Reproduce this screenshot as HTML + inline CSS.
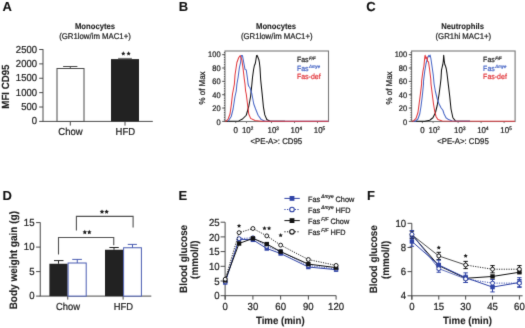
<!DOCTYPE html>
<html><head><meta charset="utf-8"><style>
html,body{margin:0;padding:0;background:#fff;}
svg{display:block;font-family:"Liberation Sans", sans-serif;text-rendering:geometricPrecision;}
</style></head><body>
<svg width="525" height="328" viewBox="0 0 525 328">
<defs><filter id="soft" x="0" y="0" width="525" height="328" filterUnits="userSpaceOnUse" color-interpolation-filters="sRGB"><feConvolveMatrix order="3" kernelMatrix="1 8 1 8 64 8 1 8 1" divisor="100" edgeMode="duplicate"/></filter></defs>
<g filter="url(#soft)">
<rect width="525" height="328" fill="#fff"/>
<text x="2.6" y="10.8" font-size="13" text-anchor="start" font-weight="bold" fill="#111" stroke="#111" stroke-width="0.1" >A</text>
<text x="178.7" y="10.8" font-size="13" text-anchor="start" font-weight="bold" fill="#111" stroke="#111" stroke-width="0.1" >B</text>
<text x="366.3" y="11.0" font-size="13" text-anchor="start" font-weight="bold" fill="#111" stroke="#111" stroke-width="0.1" >C</text>
<text x="2.4" y="199.6" font-size="13" text-anchor="start" font-weight="bold" fill="#111" stroke="#111" stroke-width="0.1" >D</text>
<text x="178.6" y="199.7" font-size="13" text-anchor="start" font-weight="bold" fill="#111" stroke="#111" stroke-width="0.1" >E</text>
<text x="367.0" y="199.8" font-size="13" text-anchor="start" font-weight="bold" fill="#111" stroke="#111" stroke-width="0.1" >F</text>
<text transform="translate(95,29.4) scale(1,1.07)" x="0" y="0" font-size="7.7" text-anchor="middle" font-weight="bold" fill="#1e1e1e" stroke="#1e1e1e" stroke-width="0.1" >Monocytes</text>
<text transform="translate(95.0,38.8) scale(1,1.07)" x="0" y="0" font-size="7.8" text-anchor="middle" font-weight="normal" fill="#1e1e1e" stroke="#1e1e1e" stroke-width="0.22" >(GR1low/im MAC1+)</text>
<line x1="43" y1="49.1" x2="43" y2="121.4" stroke="#4a4a4a" stroke-width="1" />
<line x1="39.2" y1="121.4" x2="43" y2="121.4" stroke="#4a4a4a" stroke-width="1" />
<text transform="translate(37.0,124.4) scale(1,1.07)" x="0" y="0" font-size="9.5" text-anchor="end" font-weight="normal" fill="#1e1e1e" stroke="#1e1e1e" stroke-width="0.22" >0</text>
<line x1="39.2" y1="107.02000000000001" x2="43" y2="107.02000000000001" stroke="#4a4a4a" stroke-width="1" />
<text transform="translate(37.0,110.02000000000001) scale(1,1.07)" x="0" y="0" font-size="9.5" text-anchor="end" font-weight="normal" fill="#1e1e1e" stroke="#1e1e1e" stroke-width="0.22" >500</text>
<line x1="39.2" y1="92.64" x2="43" y2="92.64" stroke="#4a4a4a" stroke-width="1" />
<text transform="translate(37.0,95.64) scale(1,1.07)" x="0" y="0" font-size="9.5" text-anchor="end" font-weight="normal" fill="#1e1e1e" stroke="#1e1e1e" stroke-width="0.22" >1000</text>
<line x1="39.2" y1="78.26" x2="43" y2="78.26" stroke="#4a4a4a" stroke-width="1" />
<text transform="translate(37.0,81.26) scale(1,1.07)" x="0" y="0" font-size="9.5" text-anchor="end" font-weight="normal" fill="#1e1e1e" stroke="#1e1e1e" stroke-width="0.22" >1500</text>
<line x1="39.2" y1="63.88" x2="43" y2="63.88" stroke="#4a4a4a" stroke-width="1" />
<text transform="translate(37.0,66.88) scale(1,1.07)" x="0" y="0" font-size="9.5" text-anchor="end" font-weight="normal" fill="#1e1e1e" stroke="#1e1e1e" stroke-width="0.22" >2000</text>
<line x1="39.2" y1="49.5" x2="43" y2="49.5" stroke="#4a4a4a" stroke-width="1" />
<text transform="translate(37.0,52.5) scale(1,1.07)" x="0" y="0" font-size="9.5" text-anchor="end" font-weight="normal" fill="#1e1e1e" stroke="#1e1e1e" stroke-width="0.22" >2500</text>
<line x1="42.5" y1="121.4" x2="152.8" y2="121.4" stroke="#4a4a4a" stroke-width="1" />
<line x1="70.3" y1="121.4" x2="70.3" y2="125.6" stroke="#4a4a4a" stroke-width="1" />
<line x1="125" y1="121.4" x2="125" y2="125.6" stroke="#4a4a4a" stroke-width="1" />
<rect x="57" y="68.5" width="27" height="52.900000000000006" fill="#fff" stroke="#4a4a4a" stroke-width="1"/>
<line x1="70.3" y1="68.5" x2="70.3" y2="66.5" stroke="#4a4a4a" stroke-width="1" />
<line x1="63.1" y1="66.5" x2="77.4" y2="66.5" stroke="#4a4a4a" stroke-width="1" />
<rect x="111" y="59.1" width="28" height="62.300000000000004" fill="#222"/>
<line x1="118.1" y1="58.4" x2="131.9" y2="58.4" stroke="#666" stroke-width="1" />
<polygon points="123.30,51.35 123.96,52.69 125.44,52.90 124.37,53.95 124.62,55.42 123.30,54.73 121.98,55.42 122.23,53.95 121.16,52.90 122.64,52.69" fill="#1e1e1e"/>
<polygon points="128.60,51.35 129.26,52.69 130.74,52.90 129.67,53.95 129.92,55.42 128.60,54.73 127.28,55.42 127.53,53.95 126.46,52.90 127.94,52.69" fill="#1e1e1e"/>
<text transform="translate(70.5,135.3) scale(1,1.07)" x="0" y="0" font-size="9.5" text-anchor="middle" font-weight="normal" fill="#1e1e1e" stroke="#1e1e1e" stroke-width="0.22" >Chow</text>
<text transform="translate(125.3,135.3) scale(1,1.07)" x="0" y="0" font-size="9.5" text-anchor="middle" font-weight="normal" fill="#1e1e1e" stroke="#1e1e1e" stroke-width="0.22" >HFD</text>
<text transform="translate(8.5,86.6) rotate(-90) scale(1,1.07)" x="0" y="0" font-size="9.7" text-anchor="middle" font-weight="bold" fill="#1e1e1e" stroke="#1e1e1e" stroke-width="0.1">MFI CD95</text>
<text transform="translate(276.05,29.4) scale(1,1.07)" x="0" y="0" font-size="7.7" text-anchor="middle" font-weight="bold" fill="#1e1e1e" stroke="#1e1e1e" stroke-width="0.1" >Monocytes</text>
<text transform="translate(276.75,39.2) scale(1,1.07)" x="0" y="0" font-size="7.8" text-anchor="middle" font-weight="normal" fill="#1e1e1e" stroke="#1e1e1e" stroke-width="0.22" >(GR1low/im MAC1+)</text>
<rect x="225" y="51" width="103.5" height="70.5" fill="none" stroke="#777" stroke-width="1.1"/>
<line x1="222.2" y1="121.4" x2="225" y2="121.4" stroke="#555" stroke-width="1" />
<text transform="translate(220.6,125.05) scale(1,1.07)" x="0" y="0" font-size="7.5" text-anchor="end" font-weight="normal" fill="#1e1e1e" stroke="#1e1e1e" stroke-width="0.22" >0</text>
<line x1="222.2" y1="108.05000000000001" x2="225" y2="108.05000000000001" stroke="#555" stroke-width="1" />
<text transform="translate(220.6,111.48) scale(1,1.07)" x="0" y="0" font-size="7.5" text-anchor="end" font-weight="normal" fill="#1e1e1e" stroke="#1e1e1e" stroke-width="0.22" >20</text>
<line x1="222.2" y1="94.7" x2="225" y2="94.7" stroke="#555" stroke-width="1" />
<text transform="translate(220.6,97.91) scale(1,1.07)" x="0" y="0" font-size="7.5" text-anchor="end" font-weight="normal" fill="#1e1e1e" stroke="#1e1e1e" stroke-width="0.22" >40</text>
<line x1="222.2" y1="81.35000000000001" x2="225" y2="81.35000000000001" stroke="#555" stroke-width="1" />
<text transform="translate(220.6,84.33999999999999) scale(1,1.07)" x="0" y="0" font-size="7.5" text-anchor="end" font-weight="normal" fill="#1e1e1e" stroke="#1e1e1e" stroke-width="0.22" >60</text>
<line x1="222.2" y1="68.0" x2="225" y2="68.0" stroke="#555" stroke-width="1" />
<text transform="translate(220.6,70.77) scale(1,1.07)" x="0" y="0" font-size="7.5" text-anchor="end" font-weight="normal" fill="#1e1e1e" stroke="#1e1e1e" stroke-width="0.22" >80</text>
<line x1="222.2" y1="54.650000000000006" x2="225" y2="54.650000000000006" stroke="#555" stroke-width="1" />
<text transform="translate(220.6,57.2) scale(1,1.07)" x="0" y="0" font-size="7.5" text-anchor="end" font-weight="normal" fill="#1e1e1e" stroke="#1e1e1e" stroke-width="0.22" >100</text>
<line x1="224.4" y1="52" x2="224.4" y2="121.5" stroke="#555" stroke-width="1" stroke-dasharray="1.2,1.2"/>
<text transform="translate(235.75,132.6) scale(1,1.07)" x="0" y="0" font-size="7.9" text-anchor="middle" font-weight="normal" fill="#1e1e1e" stroke="#1e1e1e" stroke-width="0.22" >0</text>
<text transform="translate(241.9,132.6) scale(1,1.07)" x="0" y="0" font-size="7.9" fill="#1e1e1e" stroke="#1e1e1e" stroke-width="0.22">10<tspan font-size="4.6" dy="-2.3">2</tspan></text>
<text transform="translate(267.5,132.6) scale(1,1.07)" x="0" y="0" font-size="7.9" fill="#1e1e1e" stroke="#1e1e1e" stroke-width="0.22">10<tspan font-size="4.6" dy="-2.3">3</tspan></text>
<text transform="translate(290.6,132.6) scale(1,1.07)" x="0" y="0" font-size="7.9" fill="#1e1e1e" stroke="#1e1e1e" stroke-width="0.22">10<tspan font-size="4.6" dy="-2.3">4</tspan></text>
<text transform="translate(313.75,132.6) scale(1,1.07)" x="0" y="0" font-size="7.9" fill="#1e1e1e" stroke="#1e1e1e" stroke-width="0.22">10<tspan font-size="4.6" dy="-2.3">5</tspan></text>
<line x1="235.75" y1="121.5" x2="235.75" y2="123.1" stroke="#777" stroke-width="1" />
<line x1="246.5" y1="121.5" x2="246.5" y2="123.1" stroke="#777" stroke-width="1" />
<line x1="271.5" y1="121.5" x2="271.5" y2="123.1" stroke="#777" stroke-width="1" />
<line x1="294.5" y1="121.5" x2="294.5" y2="123.1" stroke="#777" stroke-width="1" />
<line x1="317.5" y1="121.5" x2="317.5" y2="123.1" stroke="#777" stroke-width="1" />
<text transform="translate(276.35,143.7) scale(1,1.07)" x="0" y="0" font-size="7.8" text-anchor="middle" font-weight="normal" fill="#1e1e1e" stroke="#1e1e1e" stroke-width="0.22" >&lt;PE-A&gt;: CD95</text>
<text transform="translate(205.3,88.0) rotate(-90) scale(1,1.07)" x="0" y="0" font-size="7.95" text-anchor="middle" font-weight="normal" fill="#1e1e1e" stroke="#1e1e1e" stroke-width="0.22">% of Max</text>
<path d="M225.00,121.30 L238.75,120.90 L242.50,119.00 L246.25,115.25 L248.75,106.50 L250.60,96.50 L251.90,84.00 L252.50,77.50 L253.60,69.50 L254.40,65.50 L254.90,64.60 L255.50,62.50 L256.10,58.50 L256.60,55.60 L257.10,55.40 L257.70,56.80 L258.30,58.20 L258.90,59.80 L259.40,62.50 L260.00,68.00 L260.70,80.00 L262.10,93.40 L263.40,106.80 L264.80,114.90 L266.80,119.50 L270.10,121.30 L285.00,121.30" stroke="#111" stroke-width="1.05" fill="none"  stroke-linejoin="round"/>
<path d="M228.10,121.25 L231.25,116.50 L233.10,109.00 L235.00,96.50 L236.25,91.00 L236.90,84.00 L238.10,77.50 L239.40,67.50 L240.60,62.50 L241.25,55.60 L242.50,55.60 L243.75,62.50 L245.00,69.40 L246.25,70.00 L247.50,78.75 L248.10,84.00 L248.75,86.25 L250.00,87.75 L251.90,94.00 L253.75,104.00 L255.60,109.00 L258.10,115.25 L261.25,119.60 L265.00,121.25 L328.50,121.30" stroke="#4a68c6" stroke-width="1.05" fill="none"  stroke-linejoin="round"/>
<path d="M225.00,121.30 L226.20,121.10 L228.10,119.00 L230.00,114.00 L231.25,105.25 L232.50,94.00 L233.10,91.00 L234.40,84.00 L235.00,75.00 L236.90,62.50 L238.75,57.50 L240.25,55.60 L241.90,60.00 L243.10,68.75 L244.40,80.00 L245.00,84.00 L245.60,91.00 L246.25,94.00 L247.50,104.00 L248.75,114.00 L250.60,118.40 L255.00,120.50 L261.25,121.25 L328.50,121.25" stroke="#e23a3f" stroke-width="1.05" fill="none"  stroke-linejoin="round"/>
<text transform="translate(296.9,62.4) scale(1,1.07)" x="0" y="0" font-size="7.0" fill="#2a2a2a" stroke="#2a2a2a" stroke-width="0.22">Fas<tspan font-size="4.3" dx="0.5" dy="-2.2" font-style="italic">F/F</tspan></text>
<text transform="translate(296.9,70.8) scale(1,1.07)" x="0" y="0" font-size="7.0" fill="#4a68c6" stroke="#4a68c6" stroke-width="0.22">Fas<tspan font-size="4.3" dx="0.5" dy="-2.2" font-style="italic">Δmye</tspan></text>
<text transform="translate(296.9,79.2) scale(1,1.07)" x="0" y="0" font-size="7.0" fill="#e23a3f" stroke="#e23a3f" stroke-width="0.22">Fas-def</text>
<text transform="translate(462.65000000000003,29.4) scale(1,1.07)" x="0" y="0" font-size="7.7" text-anchor="middle" font-weight="bold" fill="#1e1e1e" stroke="#1e1e1e" stroke-width="0.1" >Neutrophils</text>
<text transform="translate(463.35,39.2) scale(1,1.07)" x="0" y="0" font-size="7.8" text-anchor="middle" font-weight="normal" fill="#1e1e1e" stroke="#1e1e1e" stroke-width="0.22" >(GR1hi MAC1+)</text>
<rect x="411.6" y="51" width="103.5" height="70.5" fill="none" stroke="#777" stroke-width="1.1"/>
<line x1="408.8" y1="121.4" x2="411.6" y2="121.4" stroke="#555" stroke-width="1" />
<text transform="translate(407.20000000000005,125.05) scale(1,1.07)" x="0" y="0" font-size="7.5" text-anchor="end" font-weight="normal" fill="#1e1e1e" stroke="#1e1e1e" stroke-width="0.22" >0</text>
<line x1="408.8" y1="108.05000000000001" x2="411.6" y2="108.05000000000001" stroke="#555" stroke-width="1" />
<text transform="translate(407.20000000000005,111.48) scale(1,1.07)" x="0" y="0" font-size="7.5" text-anchor="end" font-weight="normal" fill="#1e1e1e" stroke="#1e1e1e" stroke-width="0.22" >20</text>
<line x1="408.8" y1="94.7" x2="411.6" y2="94.7" stroke="#555" stroke-width="1" />
<text transform="translate(407.20000000000005,97.91) scale(1,1.07)" x="0" y="0" font-size="7.5" text-anchor="end" font-weight="normal" fill="#1e1e1e" stroke="#1e1e1e" stroke-width="0.22" >40</text>
<line x1="408.8" y1="81.35000000000001" x2="411.6" y2="81.35000000000001" stroke="#555" stroke-width="1" />
<text transform="translate(407.20000000000005,84.33999999999999) scale(1,1.07)" x="0" y="0" font-size="7.5" text-anchor="end" font-weight="normal" fill="#1e1e1e" stroke="#1e1e1e" stroke-width="0.22" >60</text>
<line x1="408.8" y1="68.0" x2="411.6" y2="68.0" stroke="#555" stroke-width="1" />
<text transform="translate(407.20000000000005,70.77) scale(1,1.07)" x="0" y="0" font-size="7.5" text-anchor="end" font-weight="normal" fill="#1e1e1e" stroke="#1e1e1e" stroke-width="0.22" >80</text>
<line x1="408.8" y1="54.650000000000006" x2="411.6" y2="54.650000000000006" stroke="#555" stroke-width="1" />
<text transform="translate(407.20000000000005,57.2) scale(1,1.07)" x="0" y="0" font-size="7.5" text-anchor="end" font-weight="normal" fill="#1e1e1e" stroke="#1e1e1e" stroke-width="0.22" >100</text>
<line x1="411.0" y1="52" x2="411.0" y2="121.5" stroke="#555" stroke-width="1" stroke-dasharray="1.2,1.2"/>
<text transform="translate(422.35,132.6) scale(1,1.07)" x="0" y="0" font-size="7.9" text-anchor="middle" font-weight="normal" fill="#1e1e1e" stroke="#1e1e1e" stroke-width="0.22" >0</text>
<text transform="translate(428.5,132.6) scale(1,1.07)" x="0" y="0" font-size="7.9" fill="#1e1e1e" stroke="#1e1e1e" stroke-width="0.22">10<tspan font-size="4.6" dy="-2.3">2</tspan></text>
<text transform="translate(454.1,132.6) scale(1,1.07)" x="0" y="0" font-size="7.9" fill="#1e1e1e" stroke="#1e1e1e" stroke-width="0.22">10<tspan font-size="4.6" dy="-2.3">3</tspan></text>
<text transform="translate(477.20000000000005,132.6) scale(1,1.07)" x="0" y="0" font-size="7.9" fill="#1e1e1e" stroke="#1e1e1e" stroke-width="0.22">10<tspan font-size="4.6" dy="-2.3">4</tspan></text>
<text transform="translate(500.35,132.6) scale(1,1.07)" x="0" y="0" font-size="7.9" fill="#1e1e1e" stroke="#1e1e1e" stroke-width="0.22">10<tspan font-size="4.6" dy="-2.3">5</tspan></text>
<line x1="422.35" y1="121.5" x2="422.35" y2="123.1" stroke="#777" stroke-width="1" />
<line x1="433.1" y1="121.5" x2="433.1" y2="123.1" stroke="#777" stroke-width="1" />
<line x1="458.1" y1="121.5" x2="458.1" y2="123.1" stroke="#777" stroke-width="1" />
<line x1="481.1" y1="121.5" x2="481.1" y2="123.1" stroke="#777" stroke-width="1" />
<line x1="504.1" y1="121.5" x2="504.1" y2="123.1" stroke="#777" stroke-width="1" />
<text transform="translate(462.95000000000005,143.7) scale(1,1.07)" x="0" y="0" font-size="7.8" text-anchor="middle" font-weight="normal" fill="#1e1e1e" stroke="#1e1e1e" stroke-width="0.22" >&lt;PE-A&gt;: CD95</text>
<text transform="translate(391.90000000000003,88.0) rotate(-90) scale(1,1.07)" x="0" y="0" font-size="7.95" text-anchor="middle" font-weight="normal" fill="#1e1e1e" stroke="#1e1e1e" stroke-width="0.22">% of Max</text>
<path d="M412.00,121.30 L424.75,121.25 L429.75,120.25 L432.90,117.75 L435.40,112.75 L437.25,105.25 L439.10,94.00 L440.40,84.00 L441.00,78.75 L441.50,70.10 L442.30,66.50 L442.80,64.50 L443.30,61.00 L443.70,55.30 L444.20,60.50 L444.80,64.50 L445.60,66.30 L446.20,68.50 L446.90,72.80 L448.20,83.60 L449.75,96.50 L451.00,109.00 L452.90,117.75 L455.40,120.90 L470.00,121.30" stroke="#111" stroke-width="1.05" fill="none"  stroke-linejoin="round"/>
<path d="M413.00,121.30 L415.40,121.25 L417.90,119.00 L419.75,114.00 L421.00,106.50 L422.25,96.50 L423.50,84.00 L423.50,81.25 L424.75,71.25 L426.00,63.75 L427.25,58.90 L428.10,56.70 L428.80,55.40 L429.40,56.70 L430.10,55.10 L430.80,58.00 L432.00,66.25 L433.25,75.00 L434.10,84.00 L435.40,91.50 L437.25,99.00 L439.10,104.00 L441.00,107.75 L442.90,110.25 L444.10,114.00 L446.00,117.75 L448.50,119.60 L452.25,120.90 L470.00,121.30" stroke="#4a68c6" stroke-width="1.05" fill="none"  stroke-linejoin="round"/>
<path d="M411.60,121.30 L413.50,120.90 L416.00,118.40 L417.90,112.75 L419.10,104.00 L420.40,94.00 L421.60,84.00 L421.60,81.25 L422.90,71.25 L423.90,66.25 L424.75,57.50 L425.10,55.25 L426.00,58.75 L427.00,56.90 L427.60,61.25 L428.50,61.90 L429.50,68.75 L430.75,78.75 L431.00,84.00 L432.25,94.00 L433.50,104.00 L434.75,111.50 L436.00,116.50 L437.90,119.60 L442.25,120.90 L515.00,121.30" stroke="#e23a3f" stroke-width="1.05" fill="none"  stroke-linejoin="round"/>
<text transform="translate(483.1,62.4) scale(1,1.07)" x="0" y="0" font-size="7.0" fill="#2a2a2a" stroke="#2a2a2a" stroke-width="0.22">Fas<tspan font-size="4.3" dx="0.5" dy="-2.2" font-style="italic">F/F</tspan></text>
<text transform="translate(483.1,70.8) scale(1,1.07)" x="0" y="0" font-size="7.0" fill="#4a68c6" stroke="#4a68c6" stroke-width="0.22">Fas<tspan font-size="4.3" dx="0.5" dy="-2.2" font-style="italic">Δmye</tspan></text>
<text transform="translate(483.1,79.2) scale(1,1.07)" x="0" y="0" font-size="7.0" fill="#e23a3f" stroke="#e23a3f" stroke-width="0.22">Fas-def</text>
<line x1="40.25" y1="222.4" x2="40.25" y2="296.1" stroke="#4a4a4a" stroke-width="1" />
<line x1="36.1" y1="296.1" x2="40.25" y2="296.1" stroke="#4a4a4a" stroke-width="1" />
<text transform="translate(34.5,299.40000000000003) scale(1,1.07)" x="0" y="0" font-size="9.6" text-anchor="end" font-weight="normal" fill="#1e1e1e" stroke="#1e1e1e" stroke-width="0.22" >0</text>
<line x1="36.1" y1="271.6" x2="40.25" y2="271.6" stroke="#4a4a4a" stroke-width="1" />
<text transform="translate(34.5,274.90000000000003) scale(1,1.07)" x="0" y="0" font-size="9.6" text-anchor="end" font-weight="normal" fill="#1e1e1e" stroke="#1e1e1e" stroke-width="0.22" >5</text>
<line x1="36.1" y1="247.10000000000002" x2="40.25" y2="247.10000000000002" stroke="#4a4a4a" stroke-width="1" />
<text transform="translate(34.5,250.40000000000003) scale(1,1.07)" x="0" y="0" font-size="9.6" text-anchor="end" font-weight="normal" fill="#1e1e1e" stroke="#1e1e1e" stroke-width="0.22" >10</text>
<line x1="36.1" y1="222.60000000000002" x2="40.25" y2="222.60000000000002" stroke="#4a4a4a" stroke-width="1" />
<text transform="translate(34.5,225.90000000000003) scale(1,1.07)" x="0" y="0" font-size="9.6" text-anchor="end" font-weight="normal" fill="#1e1e1e" stroke="#1e1e1e" stroke-width="0.22" >15</text>
<line x1="39.75" y1="296.1" x2="151.3" y2="296.1" stroke="#4a4a4a" stroke-width="1" />
<line x1="67.75" y1="296.1" x2="67.75" y2="299.6" stroke="#4a4a4a" stroke-width="1" />
<line x1="123.1" y1="296.1" x2="123.1" y2="299.6" stroke="#4a4a4a" stroke-width="1" />
<rect x="49.4" y="263.75" width="18.199999999999996" height="32.35000000000002" fill="#222"/>
<rect x="68.1" y="263.0" width="18.10000000000001" height="33.10000000000002" fill="#fff" stroke="#4a5db2" stroke-width="1"/>
<rect x="105" y="249.75" width="18.099999999999994" height="46.35000000000002" fill="#222"/>
<rect x="123.6" y="247.75" width="17.80000000000001" height="48.35000000000002" fill="#fff" stroke="#4a5db2" stroke-width="1"/>
<line x1="58.5" y1="263.75" x2="58.5" y2="260.6" stroke="#222" stroke-width="1" />
<line x1="54" y1="260.6" x2="63.5" y2="260.6" stroke="#222" stroke-width="1" />
<line x1="77.25" y1="263" x2="77.25" y2="259.4" stroke="#4a5db2" stroke-width="1" />
<line x1="72.25" y1="259.4" x2="81.9" y2="259.4" stroke="#4a5db2" stroke-width="1" />
<line x1="114" y1="249.75" x2="114" y2="247.5" stroke="#222" stroke-width="1" />
<line x1="109.4" y1="247.5" x2="118.75" y2="247.5" stroke="#222" stroke-width="1" />
<line x1="132.5" y1="247.75" x2="132.5" y2="244.4" stroke="#4a5db2" stroke-width="1" />
<line x1="127.75" y1="244.4" x2="136.9" y2="244.4" stroke="#4a5db2" stroke-width="1" />
<path d="M58.5,254.4 V237.5 H113.75 V245.3" stroke="#505050" stroke-width="1.1" fill="none" />
<path d="M76.4,230.5 V216.4 H133.1 V227.5" stroke="#505050" stroke-width="1.1" fill="none" />
<polygon points="84.80,229.80 85.51,231.23 87.08,231.46 85.94,232.57 86.21,234.14 84.80,233.40 83.39,234.14 83.66,232.57 82.52,231.46 84.09,231.23" fill="#1e1e1e"/>
<polygon points="89.30,229.80 90.01,231.23 91.58,231.46 90.44,232.57 90.71,234.14 89.30,233.40 87.89,234.14 88.16,232.57 87.02,231.46 88.59,231.23" fill="#1e1e1e"/>
<polygon points="102.00,209.40 102.71,210.83 104.28,211.06 103.14,212.17 103.41,213.74 102.00,213.00 100.59,213.74 100.86,212.17 99.72,211.06 101.29,210.83" fill="#1e1e1e"/>
<polygon points="106.60,209.40 107.31,210.83 108.88,211.06 107.74,212.17 108.01,213.74 106.60,213.00 105.19,213.74 105.46,212.17 104.32,211.06 105.89,210.83" fill="#1e1e1e"/>
<text transform="translate(68,309.5) scale(1,1.07)" x="0" y="0" font-size="9.4" text-anchor="middle" font-weight="normal" fill="#1e1e1e" stroke="#1e1e1e" stroke-width="0.22" >Chow</text>
<text transform="translate(123.4,309.5) scale(1,1.07)" x="0" y="0" font-size="9.4" text-anchor="middle" font-weight="normal" fill="#1e1e1e" stroke="#1e1e1e" stroke-width="0.22" >HFD</text>
<text transform="translate(17.1,260.2) rotate(-90) scale(1,1.07)" x="0" y="0" font-size="10" text-anchor="middle" font-weight="bold" fill="#1e1e1e" stroke="#1e1e1e" stroke-width="0.1">Body weight gain (g)</text>
<line x1="225.1" y1="222.2" x2="225.1" y2="299.7" stroke="#4a4a4a" stroke-width="1" />
<line x1="220.6" y1="295.7" x2="225" y2="295.7" stroke="#4a4a4a" stroke-width="1" />
<text transform="translate(219.6,299.4) scale(1,1.07)" x="0" y="0" font-size="9.6" text-anchor="end" font-weight="normal" fill="#1e1e1e" stroke="#1e1e1e" stroke-width="0.22" >0</text>
<line x1="220.6" y1="281.0" x2="225" y2="281.0" stroke="#4a4a4a" stroke-width="1" />
<text transform="translate(219.6,284.7) scale(1,1.07)" x="0" y="0" font-size="9.6" text-anchor="end" font-weight="normal" fill="#1e1e1e" stroke="#1e1e1e" stroke-width="0.22" >5</text>
<line x1="220.6" y1="266.3" x2="225" y2="266.3" stroke="#4a4a4a" stroke-width="1" />
<text transform="translate(219.6,270.0) scale(1,1.07)" x="0" y="0" font-size="9.6" text-anchor="end" font-weight="normal" fill="#1e1e1e" stroke="#1e1e1e" stroke-width="0.22" >10</text>
<line x1="220.6" y1="251.6" x2="225" y2="251.6" stroke="#4a4a4a" stroke-width="1" />
<text transform="translate(219.6,255.29999999999998) scale(1,1.07)" x="0" y="0" font-size="9.6" text-anchor="end" font-weight="normal" fill="#1e1e1e" stroke="#1e1e1e" stroke-width="0.22" >15</text>
<line x1="220.6" y1="236.89999999999998" x2="225" y2="236.89999999999998" stroke="#4a4a4a" stroke-width="1" />
<text transform="translate(219.6,240.59999999999997) scale(1,1.07)" x="0" y="0" font-size="9.6" text-anchor="end" font-weight="normal" fill="#1e1e1e" stroke="#1e1e1e" stroke-width="0.22" >20</text>
<line x1="220.6" y1="222.2" x2="225" y2="222.2" stroke="#4a4a4a" stroke-width="1" />
<text transform="translate(219.6,225.89999999999998) scale(1,1.07)" x="0" y="0" font-size="9.6" text-anchor="end" font-weight="normal" fill="#1e1e1e" stroke="#1e1e1e" stroke-width="0.22" >25</text>
<line x1="224.5" y1="295.7" x2="336.2" y2="295.7" stroke="#4a4a4a" stroke-width="1" />
<line x1="225.2" y1="295.7" x2="225.2" y2="299.6" stroke="#4a4a4a" stroke-width="1" />
<text transform="translate(225.2,310.1) scale(1,1.07)" x="0" y="0" font-size="9.6" text-anchor="middle" font-weight="normal" fill="#1e1e1e" stroke="#1e1e1e" stroke-width="0.22" >0</text>
<line x1="252.92" y1="295.7" x2="252.92" y2="299.6" stroke="#4a4a4a" stroke-width="1" />
<text transform="translate(252.92,310.1) scale(1,1.07)" x="0" y="0" font-size="9.6" text-anchor="middle" font-weight="normal" fill="#1e1e1e" stroke="#1e1e1e" stroke-width="0.22" >30</text>
<line x1="280.64" y1="295.7" x2="280.64" y2="299.6" stroke="#4a4a4a" stroke-width="1" />
<text transform="translate(280.64,310.1) scale(1,1.07)" x="0" y="0" font-size="9.6" text-anchor="middle" font-weight="normal" fill="#1e1e1e" stroke="#1e1e1e" stroke-width="0.22" >60</text>
<line x1="308.36" y1="295.7" x2="308.36" y2="299.6" stroke="#4a4a4a" stroke-width="1" />
<text transform="translate(308.36,310.1) scale(1,1.07)" x="0" y="0" font-size="9.6" text-anchor="middle" font-weight="normal" fill="#1e1e1e" stroke="#1e1e1e" stroke-width="0.22" >90</text>
<line x1="336.08" y1="295.7" x2="336.08" y2="299.6" stroke="#4a4a4a" stroke-width="1" />
<text transform="translate(336.08,310.1) scale(1,1.07)" x="0" y="0" font-size="9.6" text-anchor="middle" font-weight="normal" fill="#1e1e1e" stroke="#1e1e1e" stroke-width="0.22" >120</text>
<text transform="translate(280.3,323.8) scale(1,1.07)" x="0" y="0" font-size="9.7" text-anchor="middle" font-weight="bold" fill="#1e1e1e" stroke="#1e1e1e" stroke-width="0.1" >Time (min)</text>
<text transform="translate(187.2,258.9) rotate(-90) scale(1,1.07)" x="0" y="0" font-size="9.9" text-anchor="middle" font-weight="bold" fill="#1e1e1e" stroke="#1e1e1e" stroke-width="0.1">Blood glucose</text>
<text transform="translate(198.4,259.7) rotate(-90) scale(1,1.07)" x="0" y="0" font-size="9.9" text-anchor="middle" font-weight="bold" fill="#1e1e1e" stroke="#1e1e1e" stroke-width="0.1">(mmol/l)</text>
<path d="M225.20,282.47 L239.06,239.25 L252.92,239.84 L266.78,248.51 L280.64,253.51 L308.36,267.03 L336.08,269.68" stroke="#2f43a6" stroke-width="1.0" fill="none"  stroke-linejoin="round"/>
<rect x="223.00" y="280.27" width="4.4" height="4.4" fill="#2f43a6"/>
<rect x="236.86" y="237.05" width="4.4" height="4.4" fill="#2f43a6"/>
<rect x="250.72" y="237.64" width="4.4" height="4.4" fill="#2f43a6"/>
<rect x="264.58" y="246.31" width="4.4" height="4.4" fill="#2f43a6"/>
<rect x="278.44" y="251.31" width="4.4" height="4.4" fill="#2f43a6"/>
<rect x="306.16" y="264.83" width="4.4" height="4.4" fill="#2f43a6"/>
<rect x="333.88" y="267.48" width="4.4" height="4.4" fill="#2f43a6"/>
<path d="M225.20,281.88 L239.06,238.66 L252.92,237.78 L266.78,246.31 L280.64,251.60 L308.36,265.42 L336.08,268.95" stroke="#2f43a6" stroke-width="0.9" fill="none" stroke-dasharray="1.2,1.2" stroke-linejoin="round"/>
<circle cx="225.20" cy="281.88" r="1.95" fill="#fff" stroke="#2f43a6" stroke-width="0.95"/>
<circle cx="239.06" cy="238.66" r="1.95" fill="#fff" stroke="#2f43a6" stroke-width="0.95"/>
<circle cx="252.92" cy="237.78" r="1.95" fill="#fff" stroke="#2f43a6" stroke-width="0.95"/>
<circle cx="266.78" cy="246.31" r="1.95" fill="#fff" stroke="#2f43a6" stroke-width="0.95"/>
<circle cx="280.64" cy="251.60" r="1.95" fill="#fff" stroke="#2f43a6" stroke-width="0.95"/>
<circle cx="308.36" cy="265.42" r="1.95" fill="#fff" stroke="#2f43a6" stroke-width="0.95"/>
<circle cx="336.08" cy="268.95" r="1.95" fill="#fff" stroke="#2f43a6" stroke-width="0.95"/>
<path d="M225.20,280.41 L239.06,243.51 L252.92,238.37 L266.78,244.10 L280.64,251.60 L308.36,264.09 L336.08,267.62" stroke="#111" stroke-width="1.0" fill="none"  stroke-linejoin="round"/>
<rect x="223.00" y="278.21" width="4.4" height="4.4" fill="#111"/>
<rect x="236.86" y="241.31" width="4.4" height="4.4" fill="#111"/>
<rect x="250.72" y="236.17" width="4.4" height="4.4" fill="#111"/>
<rect x="264.58" y="241.90" width="4.4" height="4.4" fill="#111"/>
<rect x="278.44" y="249.40" width="4.4" height="4.4" fill="#111"/>
<rect x="306.16" y="261.89" width="4.4" height="4.4" fill="#111"/>
<rect x="333.88" y="265.42" width="4.4" height="4.4" fill="#111"/>
<path d="M225.20,279.24 L239.06,232.64 L252.92,228.52 L266.78,235.87 L280.64,245.13 L308.36,259.54 L336.08,265.42" stroke="#111" stroke-width="0.9" fill="none" stroke-dasharray="1.2,1.2" stroke-linejoin="round"/>
<circle cx="225.20" cy="279.24" r="1.95" fill="#fff" stroke="#111" stroke-width="0.95"/>
<circle cx="239.06" cy="232.64" r="1.95" fill="#fff" stroke="#111" stroke-width="0.95"/>
<circle cx="252.92" cy="228.52" r="1.95" fill="#fff" stroke="#111" stroke-width="0.95"/>
<circle cx="266.78" cy="235.87" r="1.95" fill="#fff" stroke="#111" stroke-width="0.95"/>
<circle cx="280.64" cy="245.13" r="1.95" fill="#fff" stroke="#111" stroke-width="0.95"/>
<circle cx="308.36" cy="259.54" r="1.95" fill="#fff" stroke="#111" stroke-width="0.95"/>
<circle cx="336.08" cy="265.42" r="1.95" fill="#fff" stroke="#111" stroke-width="0.95"/>
<polygon points="239.06,223.65 239.72,224.99 241.20,225.20 240.13,226.25 240.38,227.72 239.06,227.03 237.74,227.72 237.99,226.25 236.92,225.20 238.40,224.99" fill="#1e1e1e"/>
<polygon points="264.48,226.05 265.14,227.39 266.62,227.60 265.55,228.65 265.80,230.12 264.48,229.43 263.16,230.12 263.41,228.65 262.34,227.60 263.82,227.39" fill="#1e1e1e"/>
<polygon points="269.08,226.05 269.74,227.39 271.22,227.60 270.15,228.65 270.40,230.12 269.08,229.43 267.76,230.12 268.01,228.65 266.94,227.60 268.42,227.39" fill="#1e1e1e"/>
<polygon points="280.64,233.05 281.30,234.39 282.78,234.60 281.71,235.65 281.96,237.12 280.64,236.43 279.32,237.12 279.57,235.65 278.50,234.60 279.98,234.39" fill="#1e1e1e"/>
<line x1="284.4" y1="198.4" x2="299.8" y2="198.4" stroke="#2f43a6" stroke-width="1" />
<rect x="289.6" y="196.0" width="4.8" height="4.8" fill="#2f43a6"/>
<text transform="translate(308,201.9) scale(1,1.07)" x="0" y="0" font-size="7.3" fill="#222" stroke="#222" stroke-width="0.22">Fas<tspan font-size="4.8" dx="1.1" dy="-3.3" font-style="italic">Δmye</tspan><tspan dy="3.3"> Chow</tspan></text>
<line x1="284.4" y1="209.5" x2="299.8" y2="209.5" stroke="#2f43a6" stroke-width="1" stroke-dasharray="1.2,1.4"/>
<circle cx="292" cy="209.5" r="2.3" fill="#fff" stroke="#2f43a6" stroke-width="1.1"/>
<text transform="translate(308,213.0) scale(1,1.07)" x="0" y="0" font-size="7.3" fill="#222" stroke="#222" stroke-width="0.22">Fas<tspan font-size="4.8" dx="1.1" dy="-3.3" font-style="italic">Δmye</tspan><tspan dy="3.3"> HFD</tspan></text>
<line x1="284.4" y1="220.6" x2="299.8" y2="220.6" stroke="#111" stroke-width="1" />
<rect x="289.6" y="218.2" width="4.8" height="4.8" fill="#111"/>
<text transform="translate(308,224.1) scale(1,1.07)" x="0" y="0" font-size="7.3" fill="#222" stroke="#222" stroke-width="0.22">Fas<tspan font-size="4.8" dx="1.1" dy="-3.3" font-style="italic">F/F</tspan><tspan dy="3.3"> Chow</tspan></text>
<line x1="284.4" y1="231.8" x2="299.8" y2="231.8" stroke="#111" stroke-width="1" stroke-dasharray="1.2,1.4"/>
<circle cx="292" cy="231.8" r="2.3" fill="#fff" stroke="#111" stroke-width="1.1"/>
<text transform="translate(308,235.3) scale(1,1.07)" x="0" y="0" font-size="7.3" fill="#222" stroke="#222" stroke-width="0.22">Fas<tspan font-size="4.8" dx="1.1" dy="-3.3" font-style="italic">F/F</tspan><tspan dy="3.3"> HFD</tspan></text>
<line x1="411.8" y1="223.3" x2="411.8" y2="299.7" stroke="#4a4a4a" stroke-width="1" />
<line x1="407.5" y1="295.8" x2="411.9" y2="295.8" stroke="#4a4a4a" stroke-width="1" />
<text transform="translate(406.1,299.0) scale(1,1.07)" x="0" y="0" font-size="9.6" text-anchor="end" font-weight="normal" fill="#1e1e1e" stroke="#1e1e1e" stroke-width="0.22" >4</text>
<line x1="407.5" y1="271.64" x2="411.9" y2="271.64" stroke="#4a4a4a" stroke-width="1" />
<text transform="translate(406.1,274.84) scale(1,1.07)" x="0" y="0" font-size="9.6" text-anchor="end" font-weight="normal" fill="#1e1e1e" stroke="#1e1e1e" stroke-width="0.22" >6</text>
<line x1="407.5" y1="247.48000000000002" x2="411.9" y2="247.48000000000002" stroke="#4a4a4a" stroke-width="1" />
<text transform="translate(406.1,250.68) scale(1,1.07)" x="0" y="0" font-size="9.6" text-anchor="end" font-weight="normal" fill="#1e1e1e" stroke="#1e1e1e" stroke-width="0.22" >8</text>
<line x1="407.5" y1="223.32" x2="411.9" y2="223.32" stroke="#4a4a4a" stroke-width="1" />
<text transform="translate(406.1,226.51999999999998) scale(1,1.07)" x="0" y="0" font-size="9.6" text-anchor="end" font-weight="normal" fill="#1e1e1e" stroke="#1e1e1e" stroke-width="0.22" >10</text>
<line x1="411.4" y1="295.8" x2="522.6" y2="295.8" stroke="#4a4a4a" stroke-width="1" />
<line x1="411.9" y1="295.8" x2="411.9" y2="299.6" stroke="#4a4a4a" stroke-width="1" />
<text transform="translate(411.9,310.1) scale(1,1.07)" x="0" y="0" font-size="9.6" text-anchor="middle" font-weight="normal" fill="#1e1e1e" stroke="#1e1e1e" stroke-width="0.22" >0</text>
<line x1="438.77549999999997" y1="295.8" x2="438.77549999999997" y2="299.6" stroke="#4a4a4a" stroke-width="1" />
<text transform="translate(438.77549999999997,310.1) scale(1,1.07)" x="0" y="0" font-size="9.6" text-anchor="middle" font-weight="normal" fill="#1e1e1e" stroke="#1e1e1e" stroke-width="0.22" >15</text>
<line x1="465.65099999999995" y1="295.8" x2="465.65099999999995" y2="299.6" stroke="#4a4a4a" stroke-width="1" />
<text transform="translate(465.65099999999995,310.1) scale(1,1.07)" x="0" y="0" font-size="9.6" text-anchor="middle" font-weight="normal" fill="#1e1e1e" stroke="#1e1e1e" stroke-width="0.22" >30</text>
<line x1="492.5265" y1="295.8" x2="492.5265" y2="299.6" stroke="#4a4a4a" stroke-width="1" />
<text transform="translate(492.5265,310.1) scale(1,1.07)" x="0" y="0" font-size="9.6" text-anchor="middle" font-weight="normal" fill="#1e1e1e" stroke="#1e1e1e" stroke-width="0.22" >45</text>
<line x1="519.402" y1="295.8" x2="519.402" y2="299.6" stroke="#4a4a4a" stroke-width="1" />
<text transform="translate(519.402,310.1) scale(1,1.07)" x="0" y="0" font-size="9.6" text-anchor="middle" font-weight="normal" fill="#1e1e1e" stroke="#1e1e1e" stroke-width="0.22" >60</text>
<text transform="translate(467.5,323.8) scale(1,1.07)" x="0" y="0" font-size="9.7" text-anchor="middle" font-weight="bold" fill="#1e1e1e" stroke="#1e1e1e" stroke-width="0.1" >Time (min)</text>
<text transform="translate(377.2,259.3) rotate(-90) scale(1,1.07)" x="0" y="0" font-size="9.9" text-anchor="middle" font-weight="bold" fill="#1e1e1e" stroke="#1e1e1e" stroke-width="0.1">Blood glucose</text>
<text transform="translate(389.2,259.9) rotate(-90) scale(1,1.07)" x="0" y="0" font-size="9.9" text-anchor="middle" font-weight="bold" fill="#1e1e1e" stroke="#1e1e1e" stroke-width="0.1">(mmol/l)</text>
<line x1="411.9" y1="238.42000000000002" x2="411.9" y2="231.172" stroke="#111" stroke-width="1" />
<line x1="409.7" y1="238.42000000000002" x2="414.09999999999997" y2="238.42000000000002" stroke="#111" stroke-width="1" />
<line x1="409.7" y1="231.172" x2="414.09999999999997" y2="231.172" stroke="#111" stroke-width="1" />
<line x1="438.77549999999997" y1="259.56" x2="438.77549999999997" y2="252.312" stroke="#111" stroke-width="1" />
<line x1="436.5755" y1="259.56" x2="440.97549999999995" y2="259.56" stroke="#111" stroke-width="1" />
<line x1="436.5755" y1="252.312" x2="440.97549999999995" y2="252.312" stroke="#111" stroke-width="1" />
<line x1="465.65099999999995" y1="268.62" x2="465.65099999999995" y2="261.372" stroke="#111" stroke-width="1" />
<line x1="463.45099999999996" y1="268.62" x2="467.85099999999994" y2="268.62" stroke="#111" stroke-width="1" />
<line x1="463.45099999999996" y1="261.372" x2="467.85099999999994" y2="261.372" stroke="#111" stroke-width="1" />
<line x1="492.5265" y1="272.848" x2="492.5265" y2="265.6" stroke="#111" stroke-width="1" />
<line x1="490.3265" y1="272.848" x2="494.7265" y2="272.848" stroke="#111" stroke-width="1" />
<line x1="490.3265" y1="265.6" x2="494.7265" y2="265.6" stroke="#111" stroke-width="1" />
<line x1="519.402" y1="272.848" x2="519.402" y2="265.6" stroke="#111" stroke-width="1" />
<line x1="517.202" y1="272.848" x2="521.6020000000001" y2="272.848" stroke="#111" stroke-width="1" />
<line x1="517.202" y1="265.6" x2="521.6020000000001" y2="265.6" stroke="#111" stroke-width="1" />
<line x1="411.9" y1="246.27200000000002" x2="411.9" y2="236.608" stroke="#2f43a6" stroke-width="1" />
<line x1="409.7" y1="246.27200000000002" x2="414.09999999999997" y2="246.27200000000002" stroke="#2f43a6" stroke-width="1" />
<line x1="409.7" y1="236.608" x2="414.09999999999997" y2="236.608" stroke="#2f43a6" stroke-width="1" />
<line x1="438.77549999999997" y1="269.82800000000003" x2="438.77549999999997" y2="260.164" stroke="#2f43a6" stroke-width="1" />
<line x1="436.5755" y1="269.82800000000003" x2="440.97549999999995" y2="269.82800000000003" stroke="#2f43a6" stroke-width="1" />
<line x1="436.5755" y1="260.164" x2="440.97549999999995" y2="260.164" stroke="#2f43a6" stroke-width="1" />
<line x1="465.65099999999995" y1="282.512" x2="465.65099999999995" y2="272.848" stroke="#2f43a6" stroke-width="1" />
<line x1="463.45099999999996" y1="282.512" x2="467.85099999999994" y2="282.512" stroke="#2f43a6" stroke-width="1" />
<line x1="463.45099999999996" y1="272.848" x2="467.85099999999994" y2="272.848" stroke="#2f43a6" stroke-width="1" />
<line x1="492.5265" y1="291.93440000000004" x2="492.5265" y2="282.2704" stroke="#2f43a6" stroke-width="1" />
<line x1="490.3265" y1="291.93440000000004" x2="494.7265" y2="291.93440000000004" stroke="#2f43a6" stroke-width="1" />
<line x1="490.3265" y1="282.2704" x2="494.7265" y2="282.2704" stroke="#2f43a6" stroke-width="1" />
<line x1="519.402" y1="287.344" x2="519.402" y2="277.68" stroke="#2f43a6" stroke-width="1" />
<line x1="517.202" y1="287.344" x2="521.6020000000001" y2="287.344" stroke="#2f43a6" stroke-width="1" />
<line x1="517.202" y1="277.68" x2="521.6020000000001" y2="277.68" stroke="#2f43a6" stroke-width="1" />
<line x1="411.9" y1="237.81600000000003" x2="411.9" y2="230.568" stroke="#2f43a6" stroke-width="1" />
<line x1="409.7" y1="237.81600000000003" x2="414.09999999999997" y2="237.81600000000003" stroke="#2f43a6" stroke-width="1" />
<line x1="409.7" y1="230.568" x2="414.09999999999997" y2="230.568" stroke="#2f43a6" stroke-width="1" />
<line x1="438.77549999999997" y1="272.244" x2="438.77549999999997" y2="264.99600000000004" stroke="#2f43a6" stroke-width="1" />
<line x1="436.5755" y1="272.244" x2="440.97549999999995" y2="272.244" stroke="#2f43a6" stroke-width="1" />
<line x1="436.5755" y1="264.99600000000004" x2="440.97549999999995" y2="264.99600000000004" stroke="#2f43a6" stroke-width="1" />
<line x1="465.65099999999995" y1="282.512" x2="465.65099999999995" y2="275.264" stroke="#2f43a6" stroke-width="1" />
<line x1="463.45099999999996" y1="282.512" x2="467.85099999999994" y2="282.512" stroke="#2f43a6" stroke-width="1" />
<line x1="463.45099999999996" y1="275.264" x2="467.85099999999994" y2="275.264" stroke="#2f43a6" stroke-width="1" />
<line x1="492.5265" y1="286.74" x2="492.5265" y2="279.492" stroke="#2f43a6" stroke-width="1" />
<line x1="490.3265" y1="286.74" x2="494.7265" y2="286.74" stroke="#2f43a6" stroke-width="1" />
<line x1="490.3265" y1="279.492" x2="494.7265" y2="279.492" stroke="#2f43a6" stroke-width="1" />
<line x1="519.402" y1="286.74" x2="519.402" y2="279.492" stroke="#2f43a6" stroke-width="1" />
<line x1="517.202" y1="286.74" x2="521.6020000000001" y2="286.74" stroke="#2f43a6" stroke-width="1" />
<line x1="517.202" y1="279.492" x2="521.6020000000001" y2="279.492" stroke="#2f43a6" stroke-width="1" />
<path d="M411.90,234.80 L438.78,265.60 L465.65,278.28 L492.53,276.47 L519.40,272.24" stroke="#111" stroke-width="1.0" fill="none"  stroke-linejoin="round"/>
<rect x="436.58" y="263.40" width="4.4" height="4.4" fill="#111"/>
<rect x="463.45" y="276.08" width="4.4" height="4.4" fill="#111"/>
<rect x="490.33" y="274.27" width="4.4" height="4.4" fill="#111"/>
<rect x="517.20" y="270.04" width="4.4" height="4.4" fill="#111"/>
<path d="M411.90,241.44 L438.78,265.00 L465.65,277.68 L492.53,287.10 L519.40,282.51" stroke="#2f43a6" stroke-width="1.0" fill="none"  stroke-linejoin="round"/>
<rect x="409.70" y="239.24" width="4.4" height="4.4" fill="#2f43a6"/>
<rect x="436.58" y="262.80" width="4.4" height="4.4" fill="#2f43a6"/>
<rect x="463.45" y="275.48" width="4.4" height="4.4" fill="#2f43a6"/>
<rect x="490.33" y="284.90" width="4.4" height="4.4" fill="#2f43a6"/>
<rect x="517.20" y="280.31" width="4.4" height="4.4" fill="#2f43a6"/>
<path d="M411.90,234.80 L438.78,255.94 L465.65,265.00" stroke="#111" stroke-width="0.75" fill="none"  stroke-linejoin="round"/>
<path d="M465.65,265.00 L492.53,269.22 L519.40,269.22" stroke="#111" stroke-width="0.9" fill="none" stroke-dasharray="1.2,1.2" stroke-linejoin="round"/>
<circle cx="411.90" cy="234.80" r="1.95" fill="#fff" stroke="#111" stroke-width="0.95"/>
<circle cx="438.78" cy="255.94" r="1.95" fill="#fff" stroke="#111" stroke-width="0.95"/>
<circle cx="465.65" cy="265.00" r="1.95" fill="#fff" stroke="#111" stroke-width="0.95"/>
<circle cx="492.53" cy="269.22" r="1.95" fill="#fff" stroke="#111" stroke-width="0.95"/>
<circle cx="519.40" cy="269.22" r="1.95" fill="#fff" stroke="#111" stroke-width="0.95"/>
<path d="M411.90,234.19 L438.78,268.62 L465.65,278.89" stroke="#2f43a6" stroke-width="0.75" fill="none"  stroke-linejoin="round"/>
<path d="M465.65,278.89 L492.53,283.12 L519.40,283.12" stroke="#2f43a6" stroke-width="0.9" fill="none" stroke-dasharray="1.2,1.2" stroke-linejoin="round"/>
<circle cx="411.90" cy="234.19" r="1.95" fill="#fff" stroke="#2f43a6" stroke-width="0.95"/>
<circle cx="438.78" cy="268.62" r="1.95" fill="#fff" stroke="#2f43a6" stroke-width="0.95"/>
<circle cx="465.65" cy="278.89" r="1.95" fill="#fff" stroke="#2f43a6" stroke-width="0.95"/>
<circle cx="492.53" cy="283.12" r="1.95" fill="#fff" stroke="#2f43a6" stroke-width="0.95"/>
<circle cx="519.40" cy="283.12" r="1.95" fill="#fff" stroke="#2f43a6" stroke-width="0.95"/>
<polygon points="438.78,245.45 439.44,246.79 440.92,247.00 439.85,248.05 440.10,249.52 438.78,248.82 437.45,249.52 437.71,248.05 436.64,247.00 438.11,246.79" fill="#1e1e1e"/>
<polygon points="465.65,253.75 466.31,255.09 467.79,255.30 466.72,256.35 466.97,257.82 465.65,257.12 464.33,257.82 464.58,256.35 463.51,255.30 464.99,255.09" fill="#1e1e1e"/>
</g>
</svg>
</body></html>
